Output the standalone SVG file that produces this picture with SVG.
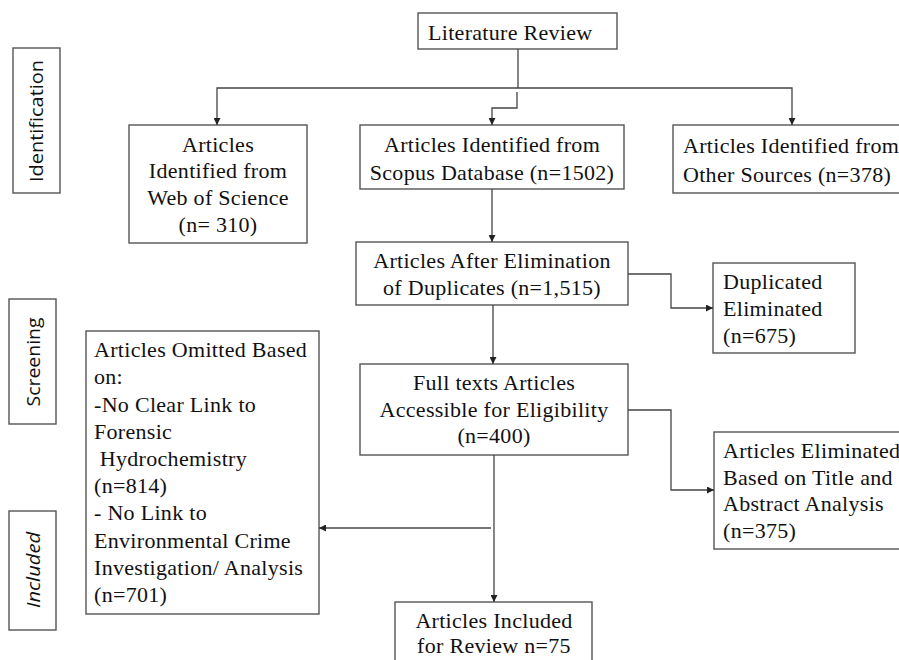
<svg xmlns="http://www.w3.org/2000/svg" width="899" height="660" viewBox="0 0 899 660">
<style>
.box{fill:#fff;stroke:#555;stroke-width:1.4}
.t{font-family:"Liberation Serif","Times New Roman",serif;font-size:22px;letter-spacing:0.3px;fill:#111}
.c{text-anchor:middle}
.s{font-family:"Open Sans","Liberation Sans",sans-serif;font-size:19px;fill:#111;text-anchor:middle}
.ln{fill:none;stroke:#444;stroke-width:1.3}
</style>
<defs>
<marker id="ah" viewBox="0 0 10 10" refX="10" refY="5" markerWidth="7" markerHeight="7" markerUnits="userSpaceOnUse" orient="auto">
<path d="M0,0 L10,5 L0,10 Z" fill="#222"/>
</marker>
</defs>
<rect width="899" height="660" fill="#fff"/>

<g id="side-identification">
<rect class="box" x="13" y="48" width="47" height="145"/>
<text class="s" transform="translate(43,121) rotate(-90)" textLength="122" lengthAdjust="spacingAndGlyphs">Identification</text>
</g>
<g id="side-screening">
<rect class="box" x="9" y="299" width="47" height="125"/>
<text class="s" transform="translate(40,362) rotate(-90)" textLength="89" lengthAdjust="spacingAndGlyphs">Screening</text>
</g>
<g id="side-included">
<rect class="box" x="9" y="511" width="47" height="119"/>
<text class="s" transform="translate(40,570) rotate(-90)" font-style="italic" textLength="76" lengthAdjust="spacingAndGlyphs">Included</text>
</g>

<g id="literature-review">
<rect class="box" x="418" y="13" width="199" height="36"/>
<text class="t" x="428" y="40">Literature Review</text>
</g>

<g id="web-of-science">
<rect class="box" x="129" y="125" width="178" height="118"/>
<text class="t c" x="218" y="152">Articles</text>
<text class="t c" x="218" y="178">Identified from</text>
<text class="t c" x="218" y="205">Web of Science</text>
<text class="t c" x="218" y="232">(n= 310)</text>
</g>

<g id="scopus">
<rect class="box" x="360" y="125" width="264" height="64"/>
<text class="t c" x="492" y="152">Articles Identified from</text>
<text class="t c" x="492" y="180">Scopus Database (n=1502)</text>
</g>

<g id="other-sources">
<rect class="box" x="673" y="125" width="240" height="68"/>
<text class="t" x="683" y="153">Articles Identified from</text>
<text class="t" x="683" y="182">Other Sources (n=378)</text>
</g>

<g id="after-duplicates">
<rect class="box" x="356" y="242" width="272" height="63"/>
<text class="t c" x="492" y="268">Articles After Elimination</text>
<text class="t c" x="492" y="295">of Duplicates (n=1,515)</text>
</g>

<g id="duplicated-eliminated">
<rect class="box" x="713" y="263" width="142" height="90"/>
<text class="t" x="723" y="289">Duplicated</text>
<text class="t" x="723" y="316">Eliminated</text>
<text class="t" x="723" y="343">(n=675)</text>
</g>

<g id="full-texts">
<rect class="box" x="360" y="364" width="268" height="91"/>
<text class="t c" x="494" y="390">Full texts Articles</text>
<text class="t c" x="494" y="417">Accessible for Eligibility</text>
<text class="t c" x="494" y="443">(n=400)</text>
</g>

<g id="title-abstract-eliminated">
<rect class="box" x="714" y="432" width="200" height="117"/>
<text class="t" x="723" y="458">Articles Eliminated</text>
<text class="t" x="723" y="485">Based on Title and</text>
<text class="t" x="723" y="511">Abstract Analysis</text>
<text class="t" x="723" y="538">(n=375)</text>
</g>

<g id="omitted">
<rect class="box" x="86" y="331" width="233" height="283"/>
<text class="t" x="94" y="357">Articles Omitted Based</text>
<text class="t" x="94" y="384">on:</text>
<text class="t" x="94" y="412">-No Clear Link to</text>
<text class="t" x="94" y="439">Forensic</text>
<text class="t" x="94" y="466" xml:space="preserve"> Hydrochemistry</text>
<text class="t" x="94" y="493">(n=814)</text>
<text class="t" x="94" y="520">- No Link to</text>
<text class="t" x="94" y="548">Environmental Crime</text>
<text class="t" x="94" y="575">Investigation/ Analysis</text>
<text class="t" x="94" y="602">(n=701)</text>
</g>

<g id="included-review">
<rect class="box" x="395" y="602" width="197" height="80"/>
<text class="t c" x="494" y="628">Articles Included</text>
<text class="t c" x="494" y="653">for Review n=75</text>
</g>

<g id="connectors">
<polyline class="ln" points="518,49 518,88"/>
<polyline class="ln" points="518,88 217,88 217,125" marker-end="url(#ah)"/>
<polyline class="ln" points="518,88 792,88 792,125" marker-end="url(#ah)"/>
<polyline class="ln" points="517,92 517,108 492,108 492,125" marker-end="url(#ah)"/>
<polyline class="ln" points="492,189 492,242" marker-end="url(#ah)"/>
<polyline class="ln" points="628,274 671,274 671,308 713,308" marker-end="url(#ah)"/>
<polyline class="ln" points="493,305 493,364" marker-end="url(#ah)"/>
<polyline class="ln" points="628,410 671,410 671,490 714,490" marker-end="url(#ah)"/>
<polyline class="ln" points="494,455 494,602" marker-end="url(#ah)"/>
<polyline class="ln" points="491,528 319,528" marker-end="url(#ah)"/>
</g>
</svg>
